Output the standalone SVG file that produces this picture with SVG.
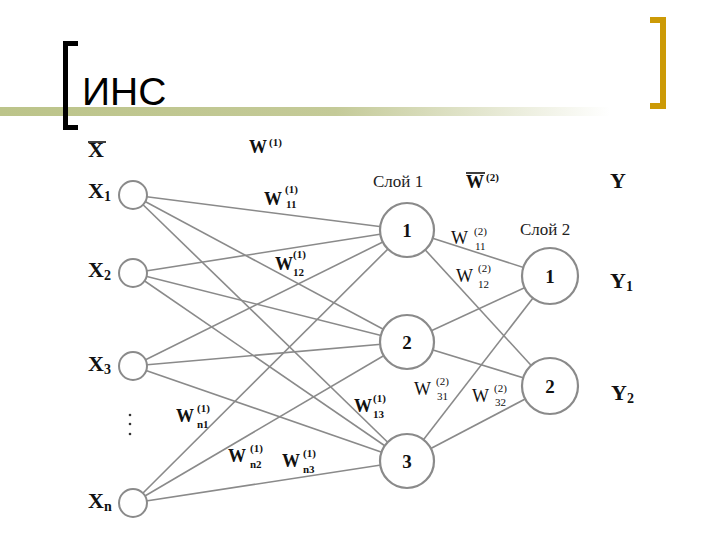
<svg xmlns="http://www.w3.org/2000/svg" width="720" height="540" viewBox="0 0 720 540">
<defs>
<linearGradient id="bar" x1="0" y1="0" x2="1" y2="0">
<stop offset="0" stop-color="#bcc48a"/>
<stop offset="0.55" stop-color="#c4ca98"/>
<stop offset="1" stop-color="#ffffff"/>
</linearGradient>
<style>
.edge{stroke:#8a8a8a;stroke-width:1.6;fill:none}
.in{fill:#fff;stroke:#8a8a8a;stroke-width:2}
.nd{fill:#fff;stroke:#8a8a8a;stroke-width:2.2}
.num{font-family:"Liberation Serif",serif;font-size:19px;font-weight:bold;fill:#111;text-anchor:middle}
.lbl{font-family:"Liberation Serif",serif;font-size:22px;font-weight:bold;fill:#111}
.sub{font-size:14px}
.w{font-family:"Liberation Serif",serif;font-size:18px;fill:#111}
.wb{font-weight:bold}
.s{font-family:"Liberation Serif",serif;font-size:11px;fill:#111}
.cap{font-family:"Liberation Serif",serif;font-size:17px;fill:#222}
</style>
</defs>
<rect width="720" height="540" fill="#fff"/>
<g id="title">
<rect x="0" y="107" width="610" height="9" fill="url(#bar)"/>
<path d="M78 41 H63 V130 H78 V125 H68 V46 H78 Z" fill="#000"/>
<path d="M650 17 H666 V109 H650 V103 H660 V23 H650 Z" fill="#cc9a06"/>
<text x="82" y="105" font-family="Liberation Sans, Arial, sans-serif" font-size="39" fill="#000">ИНС</text>
</g>
<g id="connectors">
<line class="edge" x1="133" y1="195" x2="407" y2="230"/>
<line class="edge" x1="133" y1="195" x2="407" y2="342"/>
<line class="edge" x1="133" y1="195" x2="407" y2="461"/>
<line class="edge" x1="133" y1="273" x2="407" y2="230"/>
<line class="edge" x1="133" y1="273" x2="407" y2="342"/>
<line class="edge" x1="133" y1="273" x2="407" y2="461"/>
<line class="edge" x1="133" y1="366" x2="407" y2="230"/>
<line class="edge" x1="133" y1="366" x2="407" y2="342"/>
<line class="edge" x1="133" y1="366" x2="407" y2="461"/>
<line class="edge" x1="133" y1="503" x2="407" y2="230"/>
<line class="edge" x1="133" y1="503" x2="407" y2="342"/>
<line class="edge" x1="133" y1="503" x2="407" y2="461"/>
<line class="edge" x1="407" y1="230" x2="550" y2="276"/>
<line class="edge" x1="407" y1="230" x2="550" y2="386"/>
<line class="edge" x1="407" y1="342" x2="550" y2="276"/>
<line class="edge" x1="407" y1="342" x2="550" y2="386"/>
<line class="edge" x1="407" y1="461" x2="550" y2="276"/>
<line class="edge" x1="407" y1="461" x2="550" y2="386"/>
</g>
<g id="x1"><circle class="in" cx="133" cy="195" r="14"/><text class="lbl" x="88" y="198">X<tspan class="sub" dy="3">1</tspan></text></g>
<g id="x2"><circle class="in" cx="133" cy="273" r="14"/><text class="lbl" x="88" y="277">X<tspan class="sub" dy="3">2</tspan></text></g>
<g id="x3"><circle class="in" cx="133" cy="366" r="14"/><text class="lbl" x="88" y="371">X<tspan class="sub" dy="3">3</tspan></text></g>
<g id="xn"><circle class="in" cx="133" cy="503" r="14"/><text class="lbl" x="88" y="508">X<tspan class="sub" dy="3">n</tspan></text></g>
<g id="dots" fill="#333"><circle cx="130" cy="415" r="1.3"/><circle cx="130" cy="424" r="1.3"/><circle cx="130" cy="434" r="1.3"/></g>
<g id="h1"><circle class="nd" cx="407" cy="230" r="27"/><text class="num" x="407" y="237">1</text></g>
<g id="h2"><circle class="nd" cx="407" cy="342" r="27"/><text class="num" x="407" y="349">2</text></g>
<g id="h3"><circle class="nd" cx="407" cy="461" r="27"/><text class="num" x="407" y="468">3</text></g>
<g id="o1"><circle class="nd" cx="550" cy="276" r="28"/><text class="num" x="550" y="283">1</text></g>
<g id="o2"><circle class="nd" cx="550" cy="386" r="28"/><text class="num" x="550" y="393">2</text></g>
<g id="labels">
<text class="lbl" x="88" y="157" font-size="19">X</text>
<line x1="88" y1="142" x2="106" y2="142" stroke="#111" stroke-width="1.6"/>
<text class="w wb" x="249" y="153" font-size="19">W</text><text class="s wb" x="269" y="146">(1)</text>
<text class="cap" x="373" y="187">Слой 1</text>
<text class="w wb" x="466" y="188" font-size="19">W</text><text class="s wb" x="486" y="181">(2)</text>
<line x1="466" y1="173" x2="485" y2="173" stroke="#111" stroke-width="1.6"/>
<text class="lbl" x="610" y="188" font-size="20">Y</text>
<text class="cap" x="520" y="235">Слой 2</text>
<text class="lbl" x="610" y="288" font-size="20">Y<tspan class="sub" font-size="12" dy="3">1</tspan></text>
<text class="lbl" x="611" y="400" font-size="20">Y<tspan class="sub" font-size="12" dy="3">2</tspan></text>
<text class="w wb" x="264" y="205">W</text><text class="s wb" x="285" y="193">(1)</text><text class="s wb" x="286" y="208">11</text>
<text class="w wb" x="275" y="270">W</text><text class="s wb" x="293" y="258">(1)</text><text class="s wb" x="293" y="276">12</text>
<text class="w" x="451" y="244">W</text><text class="s" x="474" y="235">(2)</text><text class="s" x="475" y="250">11</text>
<text class="w" x="456" y="282">W</text><text class="s" x="478" y="272">(2)</text><text class="s" x="478" y="288">12</text>
<text class="w wb" x="354" y="412">W</text><text class="s wb" x="373" y="402">(1)</text><text class="s wb" x="373" y="418">13</text>
<text class="w" x="414" y="395">W</text><text class="s" x="436" y="385">(2)</text><text class="s" x="437" y="400">31</text>
<text class="w" x="472" y="402">W</text><text class="s" x="494" y="392">(2)</text><text class="s" x="495" y="406">32</text>
<text class="w wb" x="176" y="422">W</text><text class="s wb" x="197" y="412">(1)</text><text class="s wb" x="197" y="428">n1</text>
<text class="w wb" x="228" y="462">W</text><text class="s wb" x="250" y="452">(1)</text><text class="s wb" x="250" y="468">n2</text>
<text class="w wb" x="282" y="467">W</text><text class="s wb" x="303" y="457">(1)</text><text class="s wb" x="303" y="473">n3</text>
</g>
</svg>
